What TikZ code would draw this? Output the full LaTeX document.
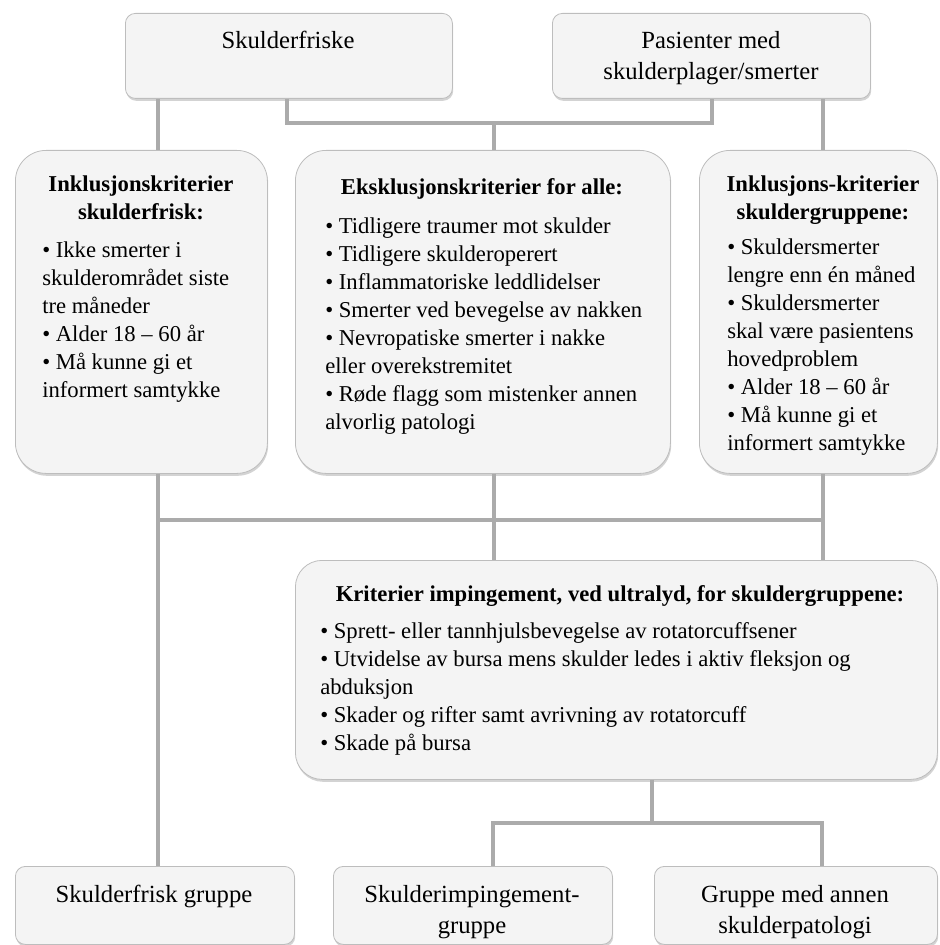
\documentclass[tikz,border=0pt]{standalone}
\usepackage{fontspec}
\setmainfont{Liberation Serif}
\usetikzlibrary{shadows}
\definecolor{boxfill}{HTML}{F4F4F4}
\definecolor{boxline}{HTML}{BDBDBD}
\definecolor{linkgray}{HTML}{ABABAB}
\begin{document}
\begin{tikzpicture}[x=0.75pt,y=-0.75pt,
                boxsize/.style 2 args={minimum width=#1*0.75pt,minimum height=#2*0.75pt},
                panel/.style={draw=boxline,line width=0.6pt,fill=boxfill,anchor=north west,inner sep=0pt,
                    drop shadow={shadow xshift=0.6pt,shadow yshift=-1.8pt,opacity=0.35}},
                small/.style={panel,rounded corners=7.5pt},
                tall/.style={panel,rounded corners=23pt},
                link/.style={draw=linkgray,line width=2.8pt},
                headtxt/.style={anchor=north,inner sep=0pt,align=center,font=\fontsize{18.5}{23}\selectfont},
                titletxt/.style={anchor=north,inner sep=0pt,align=center,font=\bfseries\fontsize{17}{21}\selectfont},
                listtxt/.style={anchor=north west,inner sep=0pt,align=left,font=\fontsize{17}{21}\selectfont}]
                \useasboundingbox (0,0) rectangle (939,945);
                \node[small,boxsize={327}{85}] (sf) at (125,13) {};
                \node[small,boxsize={318}{85}] (pas) at (552,13) {};
                \node[tall,boxsize={252}{323}] (ink1) at (15,150) {};
                \node[tall,boxsize={375}{323}] (eks) at (295,150) {};
                \node[tall,boxsize={238}{323}] (ink2) at (699,150) {};
                \node[panel,rounded corners=20pt,boxsize={642}{219}] (krit) at (295,560) {};
                \node[small,boxsize={279}{78}] (g1) at (15,866) {};
                \node[small,boxsize={279}{78}] (g2) at (333,866) {};
                \node[small,boxsize={283}{78}] (g3) at (654,866) {};
                \node[headtxt] (sf-t) at (288,31) {Skulderfriske};
                \node[headtxt] (pas-t) at (711,31) {Pasienter med\\skulderplager/smerter};
                \node[titletxt] (ink1-h) at (141,176) {Inklusjonskriterier\\skulderfrisk:};
                \node[listtxt] (ink1-l) at (42,242) {• Ikke smerter i\\skulderområdet siste\\tre måneder\\• Alder 18 – 60 år\\• Må kunne gi et\\informert samtykke};
                \node[titletxt] (eks-h) at (482,178) {Eksklusjonskriterier for alle:};
                \node[listtxt] (eks-l) at (325,218) {• Tidligere traumer mot skulder\\• Tidligere skulderoperert\\• Inflammatoriske leddlidelser\\• Smerter ved bevegelse av nakken\\• Nevropatiske smerter i nakke\\eller overekstremitet\\• Røde flagg som mistenker annen\\alvorlig patologi};
                \node[titletxt] (ink2-h) at (823,176) {Inklusjons-kriterier\\skuldergruppene:};
                \node[listtxt] (ink2-l) at (727,239) {• Skuldersmerter\\lengre enn én måned\\• Skuldersmerter\\skal være pasientens\\hovedproblem\\• Alder 18 – 60 år\\• Må kunne gi et\\informert samtykke};
                \node[titletxt] (krit-h) at (620,585) {Kriterier impingement, ved ultralyd, for skuldergruppene:};
                \node[listtxt] (krit-l) at (320,622) {• Sprett- eller tannhjulsbevegelse av rotatorcuffsener\\• Utvidelse av bursa mens skulder ledes i aktiv fleksjon og\\abduksjon\\• Skader og rifter samt avrivning av rotatorcuff\\• Skade på bursa};
                \node[headtxt] (g1-t) at (154,885) {Skulderfrisk gruppe};
                \node[headtxt] (g2-t) at (472,885) {Skulderimpingement-\\gruppe};
                \node[headtxt] (g3-t) at (795,885) {Gruppe med annen\\skulderpatologi};
                \coordinate (topL) at (287,123);
                \coordinate (topM) at (494,123);
                \coordinate (topR) at (712,123);
                \coordinate (midL) at (158,520);
                \coordinate (midM) at (494,520);
                \coordinate (midR) at (823,520);
                \coordinate (lowL) at (493,823);
                \coordinate (lowM) at (652,823);
                \coordinate (lowR) at (822,823);
                \draw[link] (sf.south -| midL) -- (ink1.north -| midL);
                \draw[link] (sf.south -| topL) -- (topL) -- (topR) -- (pas.south -| topR);
                \draw[link] (topM) -- (eks.north -| topM);
                \draw[link] (pas.south -| midR) -- (ink2.north -| midR);
                \draw[link] (ink1.south -| midL) -- (g1.north -| midL);
                \draw[link] (midL) -- (midR);
                \draw[link] (eks.south -| midM) -- (krit.north -| midM);
                \draw[link] (ink2.south -| midR) -- (krit.north -| midR);
                \draw[link] (krit.south -| lowM) -- (lowM);
                \draw[link] (g2.north -| lowL) -- (lowL) -- (lowR) -- (g3.north -| lowR);
            \end{tikzpicture}
\end{document}
